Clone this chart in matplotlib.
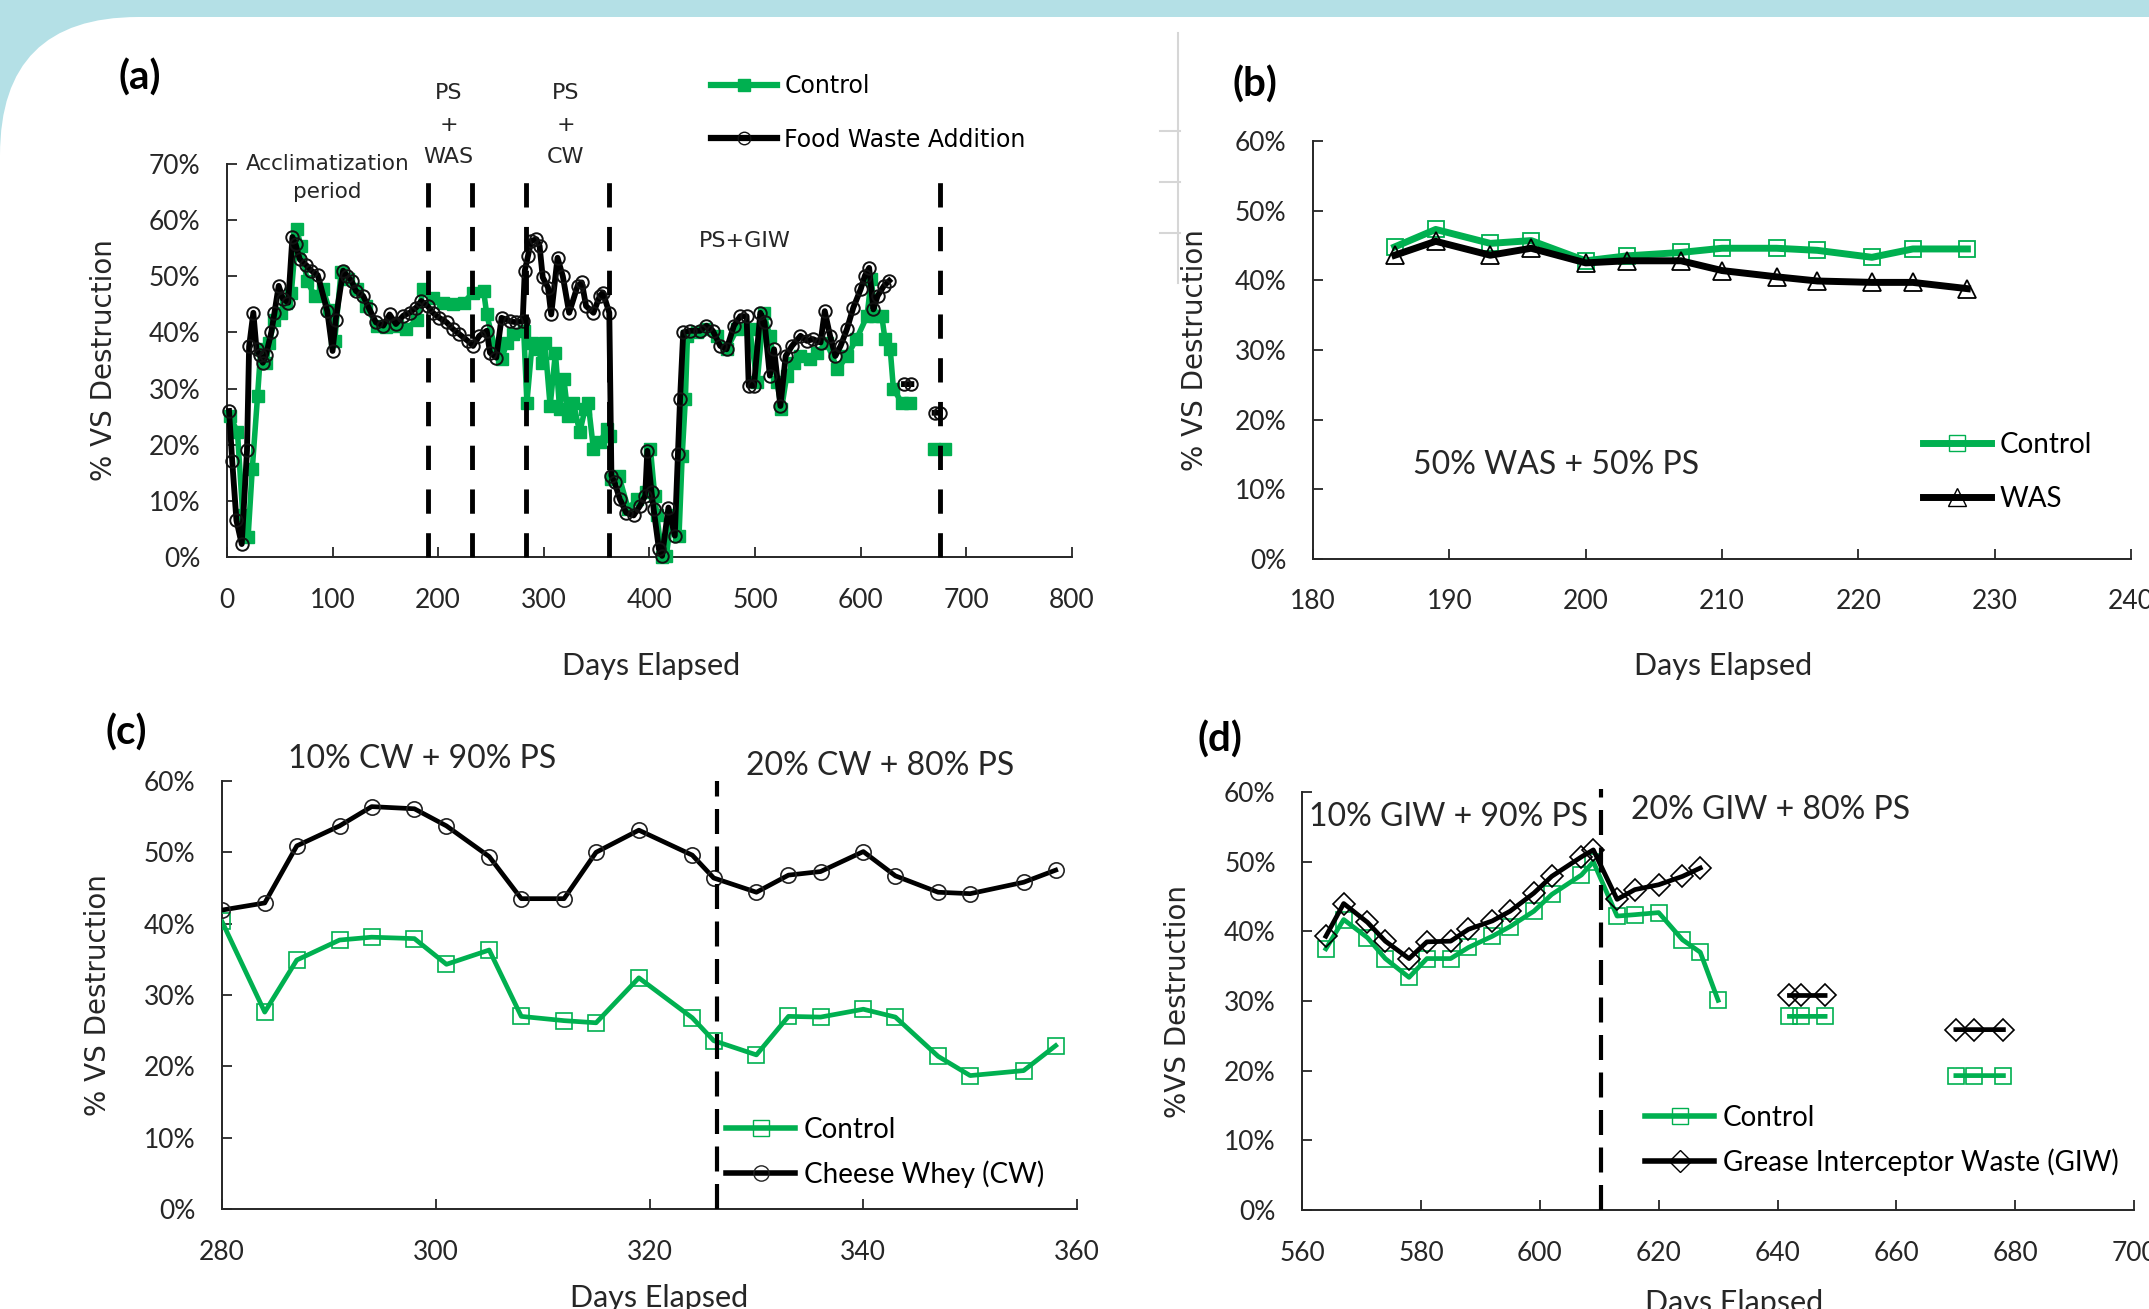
import numpy as np
import matplotlib
matplotlib.use("Agg")
import matplotlib.pyplot as plt
from matplotlib.patches import FancyBboxPatch
from matplotlib.lines import Line2D
from matplotlib.transforms import IdentityTransform
from matplotlib.ticker import PercentFormatter, MultipleLocator

W, H, DPI = 2149, 1309, 100
GREEN = "#00b050"
INK = "#262626"
BG = "#b4e0e6"
nan = np.nan

plt.rcParams['font.family'] = ['Lato', 'DejaVu Sans']

# ---- (a) whole run, % VS destruction
days_a_fw = [2, 5, 9, 14, 19, 21, 25, 28, 31, 34, 37, 42, 45, 49, 53, 58, 62, 65, 69, 75,
             80, 86, 95, 100, 103, 110, 114, 118, 122, 129, 135, 141, 148, 154, 160, 167, 173,
             179, 184, 190, 195, 201, 208, 214, 220, 228, 233, 239, 246, 249, 255, 260, 268,
             274, 280, 282, 285, 288, 293, 296, 299, 304, 307, 313, 318, 324, 332, 336, 340,
             347, 353, 356, 362, 364, 367, 372, 378, 385, 391, 396, 398, 402, 404, 409, 412,
             418, 424, 427, 429, 432, 438, 448, 454, 460, 467, 473, 480, 486, 492, 494, 499,
             505, 509, 514, 518, 524, 529, 535, 543, 549, 555, 562, 566, 571, 576, 581, 587,
             593, 600, 604, 608, 612, 616, 622, 627, 634, 641, 648, 660, 670, 675]
vs_a_fw = [26.0, 17.1, 6.5, 2.3, 19.0, 37.5, 43.5, 37.0, 36.0, 34.6, 36.0, 40.0, 43.5, 48.3,
           46.0, 45.3, 57.0, 55.7, 53.0, 52.0, 51.0, 50.2, 43.8, 36.7, 42.3, 51.0, 50.0, 49.2,
           47.4, 46.5, 44.1, 41.8, 41.2, 43.2, 41.5, 43.0, 43.5, 44.4, 45.6, 44.7, 43.5, 42.6,
           41.8, 40.6, 39.7, 38.5, 37.6, 39.4, 40.3, 36.4, 35.5, 42.6, 42.0, 41.8, 42.0, 51.0,
           53.6, 56.3, 56.6, 55.4, 49.8, 48.0, 43.2, 53.3, 50.0, 43.5, 48.3, 48.9, 44.7, 43.5,
           46.5, 47.1, 43.5, 14.5, 13.3, 10.3, 7.9, 7.4, 9.1, 10.9, 18.9, 11.5, 8.5, 1.4, 0.2,
           8.8, 3.8, 18.3, 28.1, 40.0, 40.3, 40.3, 41.2, 40.3, 37.6, 37.0, 41.2, 42.9, 42.9,
           30.5, 30.5, 43.5, 41.8, 32.3, 37.0, 26.9, 35.8, 37.6, 39.4, 38.5, 38.8, 38.2, 43.8,
           39.4, 35.8, 37.6, 40.6, 44.4, 47.7, 50.1, 51.5, 44.1, 46.5, 48.3, 49.2, nan, 30.8,
           30.8, nan, 25.7, 25.7]

days_a_ctrl = [3, 10, 15, 20, 24, 29, 32, 37, 40, 45, 51, 56, 61, 66, 70, 76, 83, 91, 97, 102,
               108, 115, 123, 132, 142, 151, 161, 170, 180, 186, 195, 205, 214, 224, 233, 243,
               246, 254, 260, 265, 271, 281, 284, 289, 295, 298, 301, 306, 311, 315, 319, 323,
               328, 334, 339, 342, 347, 353, 360, 363, 364, 371, 380, 388, 397, 401, 405, 407,
               412, 416, 421, 428, 431, 434, 436, 445, 454, 464, 473, 483, 495, 502, 508, 514,
               521, 525, 530, 537, 543, 552, 559, 568, 578, 587, 596, 606, 610, 614, 620, 623,
               628, 631, 639, 647, 660, 669, 680]
vs_a_ctrl = [25.1, 22.2, 7.4, 3.5, 15.7, 28.7, 37.0, 34.6, 38.2, 42.3, 43.5, 45.3, 47.1, 58.4,
             55.4, 49.2, 46.5, 47.7, 44.0, 38.5, 50.7, 49.5, 47.7, 44.7, 41.2, 40.9, 41.2, 40.6,
             42.3, 47.7, 46.2, 45.3, 45.0, 45.3, 47.1, 47.4, 43.2, 37.0, 35.2, 38.2, 39.7, 40.3,
             27.5, 38.2, 37.0, 34.6, 38.2, 26.9, 36.4, 26.3, 31.7, 25.1, 27.5, 22.2, 26.3, 27.5,
             19.2, 20.4, 22.8, 21.6, 13.9, 14.5, 8.5, 10.3, 11.5, 19.2, 10.9, 7.4, 0.0, 0.2, 7.4,
             3.8, 18.0, 28.1, 39.4, 40.0, 40.6, 39.4, 37.0, 40.6, 40.6, 31.1, 43.5, 39.4, 31.1,
             26.3, 32.3, 34.6, 35.8, 35.2, 36.4, 38.2, 33.4, 35.8, 38.8, 42.9, 49.5, 42.9, 42.9,
             38.8, 37.0, 29.9, 27.5, 27.5, nan, 19.2, 19.2]
phase_days_a = [190, 232, 283, 362, 675]
phase_tops_a = [68, 68, 68, 68, 69]

# ---- (b) PS + WAS
days_b = [186, 189, 193, 196, 200, 203, 207, 210, 214, 217, 221, 224, 228]
ctrl_b = [44.8, 47.3, 45.3, 45.7, 42.8, 43.5, 44.0, 44.6, 44.6, 44.3, 43.3, 44.5, 44.5]
was_b = [43.6, 45.6, 43.6, 44.6, 42.5, 42.8, 42.8, 41.4, 40.5, 39.9, 39.7, 39.7, 38.8]

# ---- (c) PS + cheese whey
days_c = [280, 284, 287, 291, 294, 298, 301, 305, 308, 312, 315, 319, 324, 326, 330, 333, 336,
          340, 343, 347, 350, 355, 358]
cw_c = [41.9, 42.9, 50.9, 53.7, 56.4, 56.1, 53.7, 49.4, 43.5, 43.5, 50.0, 53.1, 49.6, 46.4,
        44.4, 46.8, 47.3, 50.1, 46.7, 44.4, 44.2, 45.8, 47.5]
ctrl_c = [40.3, 27.6, 34.9, 37.7, 38.1, 37.9, 34.3, 36.3, 27.0, 26.4, 26.1, 32.4, 26.8, 23.6,
          21.6, 27.0, 26.9, 28.0, 26.9, 21.4, 18.7, 19.4, 22.9]
switch_c = 326.3

# ---- (d) PS + grease interceptor waste
days_d_giw = [564, 567, 571, 574, 578, 581, 585, 588, 592, 595, 599, 602, 607, 609, 613, 616,
              620, 624, 627, 635, 642, 644, 648, 660, 670, 673, 678]
giw_d = [39.3, 44.0, 41.3, 38.6, 36.1, 38.5, 38.6, 40.3, 41.5, 42.9, 45.5, 47.9, 50.7, 51.7,
         44.6, 46.0, 46.7, 47.9, 49.1, nan, 30.8, 30.8, 30.8, nan, 25.9, 25.9, 25.9]
days_d_ctrl = [564, 567, 571, 574, 578, 581, 585, 588, 592, 595, 599, 602, 607, 609, 613, 616,
               620, 624, 627, 630, 636, 642, 644, 648, 660, 670, 673, 678]
ctrl_d = [37.5, 41.7, 39.1, 36.1, 33.4, 36.1, 36.1, 37.7, 39.3, 40.7, 42.9, 45.3, 48.1, 50.0,
          42.2, 42.4, 42.7, 38.8, 37.0, 30.1, nan, 27.8, 27.8, 27.8, nan, 19.3, 19.3, 19.3]
switch_d = 610.3

fig = plt.figure(figsize=(W / DPI, H / DPI), dpi=DPI, facecolor=BG)

# white page with rounded top-left corner on the blue frame
fig.add_artist(FancyBboxPatch((0, -400), W + 400, H - 17 + 400,
                              boxstyle="round,pad=0,rounding_size=138",
                              transform=IdentityTransform(), fc="white", ec="none", zorder=-10))
# faint remnant of a neighbouring axis
gray = "#d6d6d6"
fig.add_artist(Line2D([1178, 1178], [H - 33, H - 283], transform=IdentityTransform(), color=gray, lw=1.5))
for yy in (131, 182, 233):
    fig.add_artist(Line2D([1160, 1180], [H - yy, H - yy], transform=IdentityTransform(), color=gray, lw=1.5))


def style(ax, xlim, xstep, ylim):
    ax.set_facecolor("none")
    for s in ("top", "right"):
        ax.spines[s].set_visible(False)
    for s in ("left", "bottom"):
        ax.spines[s].set_color(INK)
        ax.spines[s].set_linewidth(1.4)
    ax.set_xlim(*xlim)
    ax.set_ylim(*ylim)
    ax.xaxis.set_major_locator(MultipleLocator(xstep))
    ax.yaxis.set_major_locator(MultipleLocator(10))
    ax.yaxis.set_major_formatter(PercentFormatter(100, decimals=0))
    ax.tick_params(direction="in", length=7, width=1.3, color=INK, labelsize=19, labelcolor=INK)
    ax.tick_params(axis="y", pad=19)
    ax.tick_params(axis="x", pad=22)
    ax.set_ylabel("% VS Destruction", family="DejaVu Sans", fontsize=20, color=INK)
    ax.set_xlabel("Days Elapsed", fontsize=22, color=INK)


def legend(ax, handles, x, y, size, family, spacing, hlen):
    ax.legend(handles=handles, loc="upper left", bbox_to_anchor=(x / W, 1 - y / H),
              bbox_transform=fig.transFigure, frameon=False, borderpad=0, borderaxespad=0,
              prop={"family": family, "size": size}, handlelength=hlen, handletextpad=0.3,
              labelspacing=spacing, numpoints=1)


# ================= (a)
axA = fig.add_axes([0.1056, 0.5745, 0.3932, 0.3002])
style(axA, (0, 800), 100, (0, 70))
axA.plot(days_a_ctrl, vs_a_ctrl, color=GREEN, lw=4, marker="s", ms=9, mfc=GREEN, mec=GREEN,
         clip_on=False, zorder=3)
axA.plot(days_a_fw, vs_a_fw, color="black", lw=4.2, marker="o", ms=9, mfc="none", mec="#111111",
         mew=1.4, clip_on=False, zorder=4)
for d, top in zip(phase_days_a, phase_tops_a):
    axA.plot([d, d], [0, top], color="black", lw=3.5, ls=(0, (5, 4)), clip_on=False, zorder=5)
axA.yaxis.set_label_coords(-0.129, 0.5)
axA.xaxis.set_label_coords(0.502, -0.242)
tk = dict(family="DejaVu Sans", color=INK, ha="center", va="center")
axA.text(95, 67.5, "Acclimatization\nperiod", fontsize=15.5, linespacing=1.55, clip_on=False, **tk)
axA.text(210, 77, "PS\n+\nWAS", fontsize=16, linespacing=1.75, clip_on=False, **tk)
axA.text(321, 77, "PS\n+\nCW", fontsize=16, linespacing=1.75, clip_on=False, **tk)
axA.text(490, 56.2, "PS+GIW", fontsize=16, **tk)
legend(axA, [Line2D([], [], color=GREEN, lw=4.5, marker="s", ms=9, mfc=GREEN, mec=GREEN, label="Control"),
             Line2D([], [], color="black", lw=4.5, marker="o", ms=9, mfc="none", mec="#111111",
                    label="Food Waste Addition")],
       711, 74, 17, "DejaVu Sans", 1.25, 2.8)

# ================= (b)
axB = fig.add_axes([0.611, 0.573, 0.3806, 0.3193])
style(axB, (180, 240), 10, (0, 60))
axB.plot(days_b, ctrl_b, color=GREEN, lw=5, marker="s", ms=12, mfc="none", mec=GREEN, mew=1.3, zorder=3)
axB.plot(days_b, was_b, color="black", lw=5, marker="^", ms=13, mfc="none", mec="black", mew=1.3, zorder=4)
axB.yaxis.set_label_coords(-0.127, 0.5)
axB.xaxis.set_label_coords(0.501, -0.222)
axB.text(197.8, 13.5, "50% WAS + 50% PS", fontsize=23, color=INK, ha="center", va="center")
legend(axB, [Line2D([], [], color=GREEN, lw=5, marker="s", ms=12, mfc="none", mec=GREEN, label="Control"),
             Line2D([], [], color="black", lw=5, marker="^", ms=13, mfc="none", mec="black", label="WAS")],
       1923, 432, 20, "Lato", 1.0, 2.45)

# ================= (c)
axC = fig.add_axes([0.1033, 0.0764, 0.3979, 0.327])
style(axC, (280, 360), 20, (0, 60))
axC.plot(days_c, ctrl_c, color=GREEN, lw=3.4, marker="s", ms=11, mfc="none", mec=GREEN, mew=1.2, zorder=3)
axC.plot(days_c, cw_c, color="black", lw=3.4, marker="o", ms=11, mfc="none", mec="#222222", mew=1.2, zorder=4)
axC.plot([switch_c, switch_c], [0, 60], color="black", lw=3, ls=(0, (6, 3)), zorder=5)
axC.yaxis.set_label_coords(-0.129, 0.5)
axC.xaxis.set_label_coords(0.511, -0.175)
axC.text(298.7, 63.1, "10% CW + 90% PS", fontsize=23, color=INK, ha="center", va="center")
axC.text(341.6, 62.1, "20% CW + 80% PS", fontsize=23, color=INK, ha="center", va="center")
legend(axC, [Line2D([], [], color=GREEN, lw=4, marker="s", ms=11, mfc="none", mec=GREEN, label="Control"),
             Line2D([], [], color="black", lw=4, marker="o", ms=11, mfc="none", mec="#222222",
                    label="Cheese Whey (CW)")],
       726, 1117, 20, "Lato", 0.62, 2.5)

# ================= (d)
axD = fig.add_axes([0.6059, 0.0756, 0.3872, 0.3193])
style(axD, (560, 700), 20, (0, 60))
axD.set_ylabel("%VS Destruction", family="DejaVu Sans", fontsize=20, color=INK)
axD.plot(days_d_ctrl, ctrl_d, color=GREEN, lw=3.4, marker="s", ms=11, mfc="none", mec=GREEN, mew=1.2, zorder=3)
axD.plot(days_d_giw, giw_d, color="black", lw=3.4, marker="D", ms=11, mfc="none", mec="black", mew=1.2, zorder=4)
axD.plot([switch_d, switch_d], [0, 60.5], color="black", lw=3, ls=(0, (6, 3)), clip_on=False, zorder=5)
axD.yaxis.set_label_coords(-0.132, 0.5)
axD.xaxis.set_label_coords(0.519, -0.19)
axD.text(584.7, 56.4, "10% GIW + 90% PS", fontsize=23, color=INK, ha="center", va="center")
axD.text(638.9, 57.4, "20% GIW + 80% PS", fontsize=23, color=INK, ha="center", va="center")
legend(axD, [Line2D([], [], color=GREEN, lw=4, marker="s", ms=11, mfc="none", mec=GREEN, label="Control"),
             Line2D([], [], color="black", lw=4, marker="D", ms=11, mfc="none", mec="black",
                    label="Grease Interceptor Waste (GIW)")],
       1645, 1105, 20, "Lato", 0.62, 2.5)

# panel letters
for lab, (px, py) in zip(["(a)", "(b)", "(c)", "(d)"], [(140, 78), (1255, 85), (126, 733), (1220, 740)]):
    fig.text(px / W, 1 - py / H, lab, fontsize=29, fontweight="bold", color="black", ha="center", va="center")

fig.savefig("out.png", dpi=DPI, facecolor=BG)
